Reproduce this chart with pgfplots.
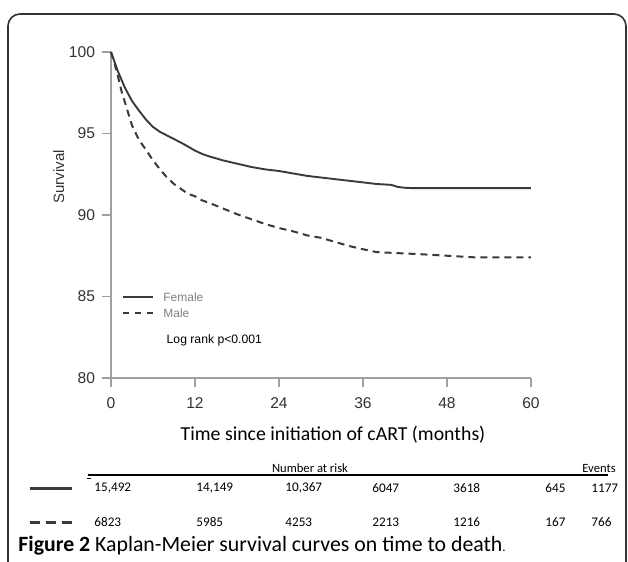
\documentclass[border=0pt]{standalone}
\usepackage{fontspec}
\setmainfont{Carlito}
\newfontfamily\arial{Liberation Sans}
\usepackage{pgfplots}
\pgfplotsset{compat=1.18}
\definecolor{curve}{HTML}{3A3A3A}
\definecolor{axisgray}{HTML}{A0A0A0}
\definecolor{ticktext}{HTML}{333333}

\begin{document}
\begin{tikzpicture}
\useasboundingbox (0,0) rectangle (314pt,281pt);
\begin{axis}[
    at={(55.5pt,92pt)}, anchor=south west,
    scale only axis, width=210pt, height=163pt,
    xmin=0, xmax=60, ymin=80, ymax=100,
    axis lines*=left,
    axis line style={axisgray, line width=0.8pt},
    xtick={0,12,...,60}, ytick={80,85,...,100},
    tick align=outside, major tick length=4.5pt,
    tick style={axisgray, line width=0.8pt},
    /pgf/number format/assume math mode=true,
    ticklabel style={font=\arial\fontsize{7.8}{9}\selectfont, text=ticktext},
    xticklabel style={yshift=-2pt},
    ylabel={Survival},
    ylabel shift=-4.5pt,
    ylabel style={at={(ticklabel cs:0.617)}, font=\arial\fontsize{7.5}{9}\selectfont, text=ticktext},
    clip=false,
]
\addplot[curve, line width=0.95pt] coordinates {
(0,100) (0.5,99.4) (1,98.8) (1.5,98.3) (2,97.8) (3,97.0) (4,96.4) (5,95.85)
(6,95.4) (7,95.1) (8,94.88) (9,94.66) (10,94.44) (11,94.2) (12,93.95) (13,93.75)
(14,93.6) (16,93.35) (18,93.15) (20,92.95) (22,92.8) (24,92.7) (26,92.55)
(28,92.4) (30,92.3) (32,92.2) (34,92.1) (36,92.0) (38,91.9) (40,91.85)
(41,91.72) (42,91.67) (43,91.65) (60,91.65)};
\addplot[curve, line width=1pt, dash pattern=on 3.5pt off 2.5pt] coordinates {
(0,100) (0.5,99.3) (1,98.5) (1.5,97.6) (2,96.9) (3,95.5) (4,94.6) (5,94.0)
(6,93.35) (7,92.8) (8,92.3) (9,91.9) (10,91.6) (11,91.3) (12,91.15) (13,90.9)
(14,90.75) (16,90.4) (18,90.05) (20,89.75) (22,89.45) (24,89.2) (26,89.0)
(28,88.75) (30,88.6) (32,88.35) (34,88.1) (36,87.9) (38,87.72) (40,87.68)
(42,87.64) (44,87.6) (46,87.55) (48,87.5) (50,87.45) (52,87.4) (60,87.4)};
\node[anchor=west, inner sep=0pt, font=\arial\fontsize{6.1}{7}\selectfont] at (axis cs:7.9,82.3) {Log rank p<0.001};
\end{axis}
\begin{scope}[x=0.5pt, y=-0.5pt, shift={(0,281pt)}]
  % frame
  \draw[line width=0.8pt, ticktext, rounded corners=6pt] (8,640) -- (8,14) -- (626,14) -- (626,640);
  % legend inside the plot
  \draw[curve, line width=0.8pt] (123,297) -- (153,297);
  \draw[curve, line width=0.8pt, dash pattern=on 3pt off 3pt] (123,313) -- (153,313);
  \node[anchor=west, inner sep=0pt, text=gray, font=\arial\fontsize{6}{7}\selectfont] at (163,297) {Female};
  \node[anchor=west, inner sep=0pt, text=gray, font=\arial\fontsize{6}{7}\selectfont] at (163,313) {Male};
  % x label
  \node[font=\fontsize{9.9}{12}\selectfont] at (333,435) {Time since initiation of cART (months)};
  % number at risk table
  \draw[line width=1pt] (88,475) -- (608,475);
  \node[anchor=base, inner sep=0pt, font=\fontsize{6.3}{7}\selectfont] at (310,472.5) {Number at risk};
  \node[anchor=base, inner sep=0pt, font=\fontsize{6.3}{7}\selectfont] at (599,472.5) {Events};
  \draw[line width=0.4pt] (87,478) -- (91,478);
  \draw[line width=1.5pt, curve] (30,489) -- (72,489);
  \draw[line width=1.5pt, curve, dash pattern=on 5pt off 3pt] (30,523) -- (72,523);
  \foreach \xx/\n in {94/{15,492}, 196/{14,149}, 285/{10,367}, 372/6047, 453/3618, 545/645, 591/1177}
    \node[anchor=west, inner sep=0pt, font=\fontsize{6.6}{8}\selectfont] at (\xx,488) {\n};
  \foreach \xx/\n in {94/6823, 196/5985, 285/4253, 372/2213, 453/1216, 545/167, 591/766}
    \node[anchor=west, inner sep=0pt, font=\fontsize{6.6}{8}\selectfont] at (\xx,522) {\n};
  % caption
  \node[anchor=west, inner sep=0pt, font=\fontsize{10.9}{13}\selectfont] at (18,546) {\textbf{Figure 2} Kaplan-Meier survival curves on time to death{\fontsize{6.5}{7}\selectfont.}};
\end{scope}
\end{tikzpicture}
\end{document}
